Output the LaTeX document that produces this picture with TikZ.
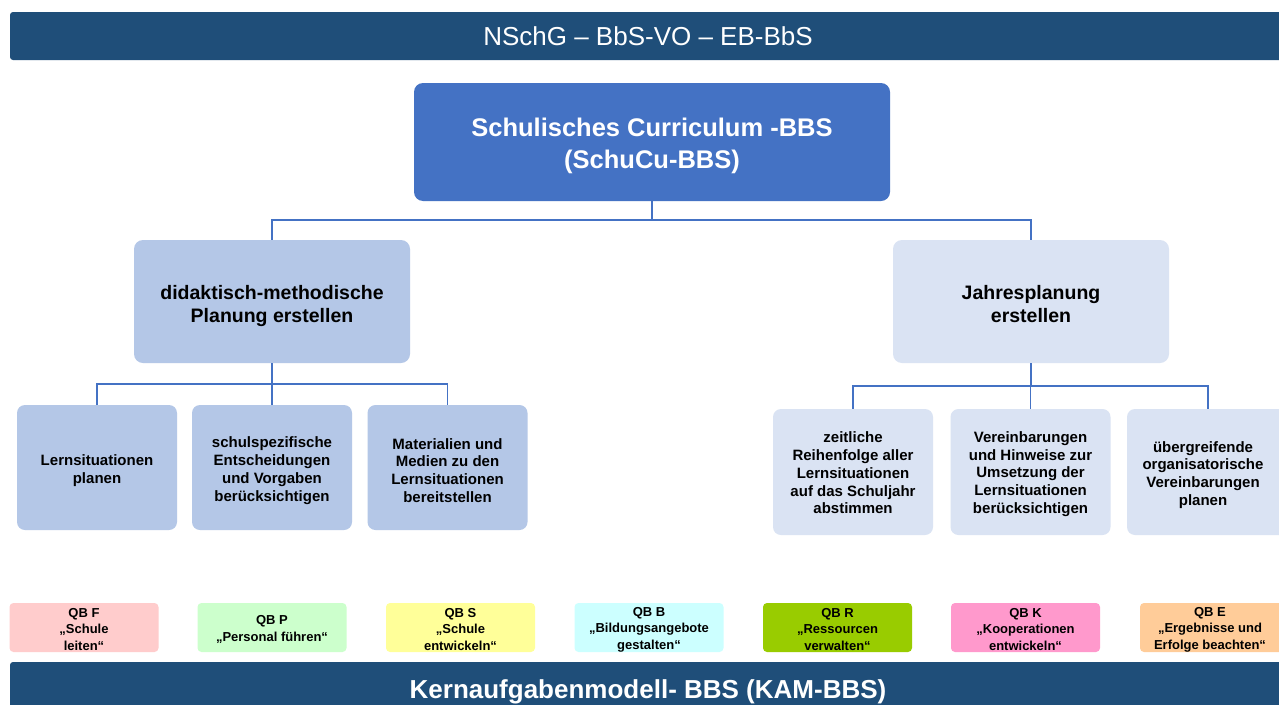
\documentclass[tikz,border=0pt]{standalone}
\usepackage{fontspec}
\setmainfont{Liberation Sans}
\usetikzlibrary{calc}
\definecolor{bannerblue}{HTML}{1F4E79}
\definecolor{mainblue}{HTML}{4472C4}
\definecolor{midfill}{HTML}{B4C7E7}
\definecolor{lightfill}{HTML}{DAE3F3}
\definecolor{connblue}{HTML}{4472C4}
\definecolor{qbF}{HTML}{FFCCCC}
\definecolor{qbP}{HTML}{CCFFCC}
\definecolor{qbS}{HTML}{FFFF99}
\definecolor{qbB}{HTML}{CCFFFF}
\definecolor{qbR}{HTML}{99CC00}
\definecolor{qbK}{HTML}{FF99CC}
\definecolor{qbE}{HTML}{FFCC99}
\tikzset{
  banner/.style={fill=bannerblue, text=white, inner sep=0pt, rounded corners=3pt},
  rootbox/.style={fill=mainblue, rounded corners=9pt, inner sep=0pt,
    minimum width=476pt, minimum height=118pt},
  roottext/.style={text=white, align=center, inner sep=0pt,
    font=\bfseries\fontsize{25.5}{32}\selectfont},
  midbox/.style={rounded corners=9pt, inner sep=0pt, minimum width=276pt,
    minimum height=123pt},
  midtext/.style={align=center, inner sep=0pt, font=\bfseries\fontsize{19.5}{23}\selectfont},
  childbox/.style={rounded corners=8pt, inner sep=0pt, minimum width=160pt,
    minimum height=125pt},
  childtext/.style={align=center, inner sep=0pt, font=\bfseries\fontsize{15}{17.8}\selectfont},
  qbbox/.style={rounded corners=4pt, inner sep=0pt, minimum width=149pt,
    minimum height=49pt},
  qbtext/.style={align=center, inner sep=0pt, font=\bfseries\fontsize{13}{16.5}\selectfont},
  conn/.style={draw=connblue, line width=1.3pt},
}
\begin{document}
\begin{tikzpicture}[x=1pt,y=-1pt]
\useasboundingbox (0,0) rectangle (1279,704);
\clip (0,0) rectangle (1279,704);
\fill[white] (0,0) rectangle (1279,704);
% banners
\fill[banner] (10,12) rectangle (1290,60);
\node[text=white, font=\fontsize{26}{30}\selectfont] (top) at (648,36.5) {NSchG – BbS-VO – EB-BbS};
\fill[banner] (10,662) rectangle (1290,720);
\node[text=white, font=\bfseries\fontsize{26}{30}\selectfont] (bottom) at (648,691.5) {Kernaufgabenmodell- BBS (KAM-BBS)};
% root
\node[rootbox] (root) at (652,142) {};
\node[roottext] (roott) at (652,146) {Schulisches Curriculum -BBS\\(SchuCu-BBS)};
% middle
\node[midbox, fill=midfill] (dida) at (272,301.5) {};
\node[midtext] (didat) at (272,305.5) {didaktisch-methodische\\Planung erstellen};
\node[midbox, fill=lightfill] (jahr) at (1031,301.5) {};
\node[midtext] (jahrt) at (1031,304) {Jahresplanung\\erstellen};
% left children
\node[childbox, fill=midfill] (l1) at (97,467.5) {};
\node[childtext] (l1t) at (97,471) {Lernsituationen\\planen};
\node[childbox, fill=midfill] (l2) at (272,467.5) {};
\node[childtext] (l2t) at (272,470.5) {schulspezifische\\Entscheidungen\\und Vorgaben\\berücksichtigen};
\node[childbox, fill=midfill] (l3) at (447.5,467.5) {};
\node[childtext] (l3t) at (447.5,470.5) {Materialien und\\Medien zu den\\Lernsituationen\\bereitstellen};
% right children
\node[childbox, fill=lightfill, minimum height=126pt] (r1) at (853,472) {};
\node[childtext] (r1t) at (853,473) {zeitliche\\Reihenfolge aller\\Lernsituationen\\auf das Schuljahr\\abstimmen};
\node[childbox, fill=lightfill, minimum height=126pt] (r2) at (1030.5,472) {};
\node[childtext] (r2t) at (1030.5,474) {Vereinbarungen\\und Hinweise zur\\Umsetzung der\\Lernsituationen\\berücksichtigen};
\node[childbox, fill=lightfill, minimum height=126pt, minimum width=162pt] (r3) at (1208,472) {};
\node[childtext] (r3t) at (1203,475) {übergreifende\\organisatorische\\Vereinbarungen\\planen};
% connectors
\coordinate (j1) at (652,220);
\draw[conn] (root.south) -- (root.south |- j1) -| (dida.north);
\draw[conn] (root.south |- j1) -| (jahr.north);
\coordinate (j2) at (272,384);
\draw[conn] (dida.south) -- (dida.south |- j2) -| (l1.north);
\draw[conn] (dida.south |- j2) -- (l2.north);
\draw[conn] (dida.south |- j2) -| (l3.north);
\coordinate (j3) at (1031,386);
\draw[conn] (jahr.south) -- (jahr.south |- j3) -| (r1.north);
\draw[conn] (jahr.south |- j3) -| (r2.north);
\draw[conn] (jahr.south |- j3) -| (r3.north);
% QB boxes
\node[qbbox, fill=qbF] (qF) at (84,627.5) {};
\node[qbtext] (qFt) at (84,629.5) {QB F\\„Schule\\leiten“};
\node[qbbox, fill=qbP] (qP) at (272,627.5) {};
\node[qbtext] (qPt) at (272,629.5) {QB P\\„Personal führen“};
\node[qbbox, fill=qbS] (qS) at (460.5,627.5) {};
\node[qbtext] (qSt) at (460.5,629.5) {QB S\\„Schule\\entwickeln“};
\node[qbbox, fill=qbB] (qB) at (649,627.5) {};
\node[qbtext] (qBt) at (649,629.5) {QB B\\„Bildungsangebote\\gestalten“};
\node[qbbox, fill=qbR] (qR) at (837.5,627.5) {};
\node[qbtext] (qRt) at (837.5,629.5) {QB R\\„Ressourcen\\verwalten“};
\node[qbbox, fill=qbK] (qK) at (1025.5,627.5) {};
\node[qbtext] (qKt) at (1025.5,629.5) {QB K\\„Kooperationen\\entwickeln“};
\node[qbbox, fill=qbE, minimum width=150pt] (qE) at (1215,627.5) {};
\node[qbtext] (qEt) at (1210,629.5) {QB E\\„Ergebnisse und\\Erfolge beachten“};
\end{tikzpicture}
\end{document}
